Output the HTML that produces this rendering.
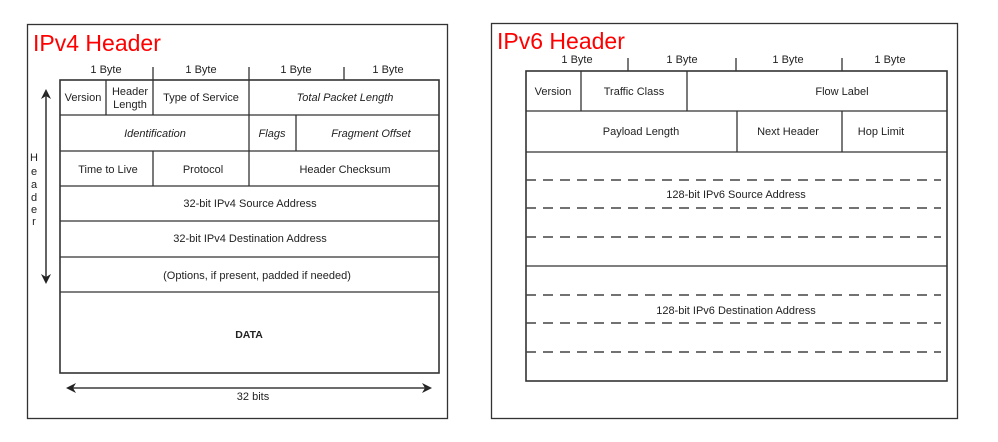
<!DOCTYPE html>
<html><head><meta charset="utf-8"><style>
html,body{margin:0;padding:0;background:#fff;width:998px;height:442px;overflow:hidden}
svg text{font-family:"Liberation Sans",sans-serif;fill:#222}
</style></head><body>
<svg width="998" height="442" viewBox="0 0 998 442" xmlns="http://www.w3.org/2000/svg">
<defs>
<marker id="ah" markerWidth="10" markerHeight="10" refX="8" refY="5" orient="auto" markerUnits="userSpaceOnUse"><path d="M0,0 L10,5 L0,10 L3,5 z" fill="#222"/></marker>
</defs>
<g fill="none" stroke="#333" stroke-width="1.3">
<rect x="27.5" y="24.5" width="420" height="394"/>
<rect x="60" y="80" width="379" height="293" stroke-width="1.6"/>
<line x1="60" y1="115" x2="439" y2="115"/>
<line x1="60" y1="151" x2="439" y2="151"/>
<line x1="60" y1="186" x2="439" y2="186"/>
<line x1="60" y1="221" x2="439" y2="221"/>
<line x1="60" y1="257" x2="439" y2="257"/>
<line x1="60" y1="292" x2="439" y2="292"/>
<line x1="106" y1="80" x2="106" y2="115"/>
<line x1="153" y1="67" x2="153" y2="115"/>
<line x1="249" y1="67" x2="249" y2="186"/>
<line x1="344" y1="67" x2="344" y2="80"/>
<line x1="296" y1="115" x2="296" y2="151"/>
<line x1="153" y1="151" x2="153" y2="186"/>
<line x1="46" y1="282" x2="46" y2="91" marker-end="url(#ah)"/>
<line x1="46" y1="91" x2="46" y2="282" marker-end="url(#ah)"/>
<line x1="70" y1="388" x2="430" y2="388" marker-end="url(#ah)"/>
<line x1="430" y1="388" x2="68" y2="388" marker-end="url(#ah)"/>
<rect x="491.5" y="23.5" width="466" height="395"/>
<rect x="526" y="71" width="421" height="310" stroke-width="1.6"/>
<line x1="526" y1="111" x2="947" y2="111"/>
<line x1="526" y1="152" x2="947" y2="152"/>
<line x1="526" y1="266" x2="947" y2="266"/>
<line x1="581" y1="71" x2="581" y2="111"/>
<line x1="628" y1="58" x2="628" y2="71"/>
<line x1="736" y1="58" x2="736" y2="71"/>
<line x1="842" y1="58" x2="842" y2="71"/>
<line x1="687" y1="71" x2="687" y2="111"/>
<line x1="737" y1="111" x2="737" y2="152"/>
<line x1="842" y1="111" x2="842" y2="152"/>
<g stroke-dasharray="10,7" stroke-width="1.5" stroke="#444">
<line x1="526" y1="180" x2="941" y2="180"/>
<line x1="526" y1="208" x2="941" y2="208"/>
<line x1="526" y1="237" x2="941" y2="237"/>
<line x1="526" y1="295" x2="941" y2="295"/>
<line x1="526" y1="323" x2="941" y2="323"/>
<line x1="526" y1="352" x2="941" y2="352"/>
</g>
</g>
<text x="33" y="51" font-size="23" style="fill:#f00">IPv4 Header</text>
<text x="497" y="49" font-size="23" style="fill:#f00">IPv6 Header</text>
<g font-size="11" text-anchor="middle">
<text x="106" y="73">1 Byte</text><text x="201" y="73">1 Byte</text><text x="296" y="73">1 Byte</text><text x="388" y="73">1 Byte</text>
<text x="83" y="101">Version</text>
<text x="130" y="95">Header</text><text x="130" y="108">Length</text>
<text x="201" y="101">Type of Service</text>
<text x="345" y="101" font-style="italic">Total Packet Length</text>
<text x="155" y="137" font-style="italic">Identification</text>
<text x="272" y="137" font-style="italic">Flags</text>
<text x="371" y="137" font-style="italic">Fragment Offset</text>
<text x="108" y="173">Time to Live</text>
<text x="203" y="173">Protocol</text>
<text x="345" y="173">Header Checksum</text>
<text x="250" y="207">32-bit IPv4 Source Address</text>
<text x="250" y="242">32-bit IPv4 Destination Address</text>
<text x="257" y="279">(Options, if present, padded if needed)</text>
<text x="249" y="338" font-weight="bold" font-size="10.5">DATA</text>
<text x="253" y="400">32 bits</text>
<text x="34" y="161">H</text><text x="34" y="175">e</text><text x="34" y="188">a</text><text x="34" y="201">d</text><text x="34" y="213">e</text><text x="34" y="225">r</text>
<text x="577" y="63">1 Byte</text><text x="682" y="63">1 Byte</text><text x="788" y="63">1 Byte</text><text x="890" y="63">1 Byte</text>
<text x="553" y="95">Version</text>
<text x="634" y="95">Traffic Class</text>
<text x="842" y="95">Flow Label</text>
<text x="641" y="135">Payload Length</text>
<text x="788" y="135">Next Header</text>
<text x="881" y="135">Hop Limit</text>
<text x="736" y="198">128-bit IPv6 Source Address</text>
<text x="736" y="314">128-bit IPv6 Destination Address</text>
</g>
</svg>
</body></html>
